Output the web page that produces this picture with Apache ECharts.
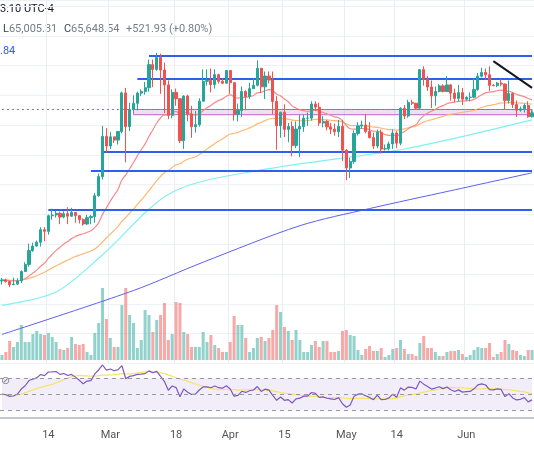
<!DOCTYPE html>
<html>
<head>
<meta charset="utf-8">
<script src="https://cdn.jsdelivr.net/npm/echarts@6/dist/echarts.min.js"></script>
<style>html,body{margin:0;padding:0;background:#fff}#chart{width:534px;height:462px}</style>
</head>
<body>
<div id="chart"></div>
<script>
// days Feb 2 .. Jun 18 2024
const dates = [];
for (let d = new Date(2024, 1, 2); d <= new Date(2024, 5, 18); d.setDate(d.getDate() + 1)) {
    dates.push((d.getMonth() + 1) + '/' + d.getDate());
}

const closes = [
    43200,43010,42580,42660,43090,44340,45300,47150,47770,48290,49960,49740,51830,51940,52160,51660,52120,51780,52280,51850,51320,50730,51570,51730,54520,57090,62500,61200,
    62430,61990,63140,68330,63800,66110,66930,68300,68500,69020,72120,71480,73080,71400,69400,65320,68390,67550,61910,67910,65490,63780,64060,67210,69880,69990,69460,70780,69890,69640,71330,
    69700,65450,65960,68510,67840,68900,69360,71630,69140,70590,70060,67190,63920,65740,63430,63810,61280,63470,63820,64940,64940,66840,66410,64280,64500,63770,63460,63120,63840,60640,
    58250,59120,62890,63890,64030,63160,62330,61190,63050,60790,60820,61480,62940,61580,66270,65230,67050,66940,66280,71450,70140,69120,67930,68530,69270,68510,69400,68300,67590,68360,67490,
    67710,67760,68800,70570,71080,70760,69340,69310,69650,69510,67320,68240,66760,66010,66190,66640,65127,65648
];
const highs = [
    43480,43380,43100,43520,43450,44500,45600,48100,48200,48500,50300,50300,52000,52800,52550,52400,52450,52980,52900,52000,51500,51500,51950,51950,54900,57500,63900,63600,
    63100,62400,63200,68500,69000,67000,68000,68500,68800,69800,72800,72800,73700,73600,72400,70000,68800,68900,67600,68000,68100,66600,65900,67600,71500,71500,71600,71500,70900,70300,71300,
    71300,69700,66900,69200,68700,69700,70300,72700,71700,71200,71200,71200,67900,65800,66800,64300,64500,64500,65400,65400,65700,67200,67200,67000,65200,64700,64300,64200,64700,64700,
    60800,59600,63300,64400,64600,65500,64400,63000,63400,63400,61400,61800,63400,63200,66400,66700,67400,67400,67000,71500,71900,70600,70000,69200,69500,69500,70600,69500,68900,69400,69000,
    67900,68400,70300,71000,71700,71600,71900,69500,69800,70200,69600,70000,68400,67300,66500,66900,67200,66100
];
const lows = [
    42600,42850,42250,42550,42550,42800,44300,45000,47000,47700,47700,48400,49300,51300,51600,50700,51500,50700,51700,50900,50800,50500,50600,50700,50900,54400,56700,60300,
    60800,61600,61400,62900,59000,63200,66000,66000,67900,68100,68500,69100,71300,68200,65600,64800,64900,66600,61600,60800,64500,62300,63000,63800,67200,69300,68400,68900,69600,69500,69600,
    68200,64600,64500,65100,66000,67500,68900,69200,68300,67500,69600,65500,60700,62300,62400,61700,59800,60900,59700,63100,63900,64600,65900,63900,63700,63300,62800,62600,62400,59200,
    56600,56900,58800,62600,63500,62900,62200,60800,60900,60200,60600,60600,60800,60900,61300,64800,65000,66700,66100,66100,69300,68600,66300,66600,68400,68400,68500,67300,67100,67200,66700,
    67300,67200,67600,68600,70400,70100,68600,69200,69100,69200,66100,66900,66300,65100,65800,65700,65000,65005
];
const volumes = [
    5,8,19,13,18,35,18,18,26,29,26,25,27,23,18,11,10,12,23,16,15,16,8,5,27,37,72,41,
    22,13,13,55,72,45,37,12,20,50,45,28,40,45,57,20,26,58,57,28,26,13,13,13,28,18,25,15,12,8,8,
    18,44,35,35,22,8,12,22,23,19,22,30,55,48,33,29,20,30,20,8,8,15,19,13,19,19,8,8,9,29,
    30,25,24,10,5,11,14,9,9,12,3,5,11,12,20,11,6,6,4,17,24,12,12,8,4,4,8,9,9,10,6,
    3,5,10,13,12,12,17,3,6,8,20,16,10,9,5,4,10,10
];
// slower moving averages (sparse points)
const ma100Idx = [0, 14, 26, 44, 69, 104, 137];
const ma100Val = [39800, 41600, 46600, 55000, 58150, 60800, 64700];
const ma200Idx = [0, 34, 52, 77, 95, 116, 137];
const ma200Val = [35900, 41800, 45600, 50500, 52800, 55200, 57600];

// support / resistance levels: [startIndex, price]
const levels = [[38, 73300], [35, 70200], [26, 60400], [23, 57900], [12, 52700]];
const bandLow = 65400, bandHigh = 66100, bandStart = 34;
const trend = [[127, 72600], [137, 69000]];
const tickLabels = { 12: '14', 28: 'Mar', 45: '18', 59: 'Apr', 73: '15', 89: 'May', 102: '14', 120: 'Jun' };

const UP = '#26a69a', DOWN = '#ef5350';
const opens = closes.map((c, i) => i ? closes[i - 1] : 43100);
const candles = closes.map((c, i) => [opens[i], c, lows[i], highs[i]]);
const volData = volumes.map((v, i) => ({
    value: v,
    itemStyle: { color: closes[i] >= opens[i] ? 'rgba(38,166,154,0.5)' : 'rgba(239,83,80,0.5)' }
}));

function ema(src, n) {
    const k = 2 / (n + 1);
    let prev = src[0];
    return src.map((v, i) => (prev = i ? v * k + prev * (1 - k) : v, Math.round(prev)));
}
function sparse(idx, val) {
    const out = dates.map(() => null);
    idx.forEach((x, j) => { out[x] = val[j]; });
    return out;
}
function rsi(src, n) {
    let g = 400, l = 400;
    return src.map((v, i) => {
        if (i) {
            const d = v - src[i - 1];
            g = (g * (n - 1) + Math.max(d, 0)) / n;
            l = (l * (n - 1) + Math.max(-d, 0)) / n;
        }
        return +(100 - 100 / (1 + g / l)).toFixed(2);
    });
}
const rsiVals = rsi(closes, 14);
const rsiMa = rsiVals.map((v, i) => {
    const s = rsiVals.slice(Math.max(0, i - 13), i + 1);
    return +(s.reduce((a, b) => a + b, 0) / s.length).toFixed(2);
});

const vSplit = {
    show: true,
    interval: (i) => i in tickLabels,
    lineStyle: { color: '#e9edf4' }
};
const last = dates.length - 1;

const chart = echarts.init(document.getElementById('chart'));
chart.setOption({
    animation: false,
    textStyle: { fontFamily: 'Roboto, sans-serif' },
    graphic: [
        { type: 'text', left: 0, top: 4, style: { text: '3:10 UTC-4', fill: '#131722', font: '11px Roboto' } },
        { type: 'text', left: 3, top: 23, style: {
            text: '{k|L}{v|65,005.31}  {k|C}{v|65,648.54}  {v|+521.93 (+0.80%)}',
            rich: { k: { fill: '#444', font: '11px Roboto' }, v: { fill: '#787b86', font: '11px Roboto' } }
        } },
        { type: 'text', left: 0, top: 46, style: { text: '.84', fill: '#2962ff', font: '11px Roboto' } },
        { type: 'text', left: 1, top: 376, style: { text: '⊘', fill: '#888', font: '11px DejaVu Sans' } }
    ],
    grid: [
        { left: -4, right: 0, top: -1, height: 364.5 },
        { left: -4, right: 0, top: 270, height: 90 },
        { left: -4, right: 0, top: 362, height: 56 }
    ],
    xAxis: [0, 1, 2].map(g => ({
        type: 'category', gridIndex: g, data: dates, boundaryGap: true,
        axisTick: { show: false },
        axisLine: { show: g === 2, lineStyle: { color: '#b2b5be', width: 1.5 } },
        axisLabel: {
            show: g === 2, interval: (i) => i in tickLabels,
            formatter: (v, i) => tickLabels[i] || '', color: '#555', fontSize: 11, margin: 12
        },
        splitLine: g === 0 ? vSplit : { show: false }
    })),
    yAxis: [
        { type: 'value', gridIndex: 0, min: 32000, max: 80800, interval: 4000, axisLabel: { show: false },
          splitLine: { lineStyle: { color: '#eef1f6' } } },
        { type: 'value', gridIndex: 1, min: 0, max: 90, show: false, splitLine: { show: false } },
        { type: 'value', gridIndex: 2, min: 20, max: 90, show: false, splitLine: { show: false } }
    ],
    series: [
        {
            type: 'bar', xAxisIndex: 1, yAxisIndex: 1, data: volData, barWidth: '78%', z: 1
        },
        {
            type: 'line', data: sparse(ma200Idx, ma200Val), connectNulls: true, smooth: 0.3, symbol: 'none',
            lineStyle: { color: '#5d5ff0', width: 1 }, z: 2
        },
        {
            type: 'line', data: sparse(ma100Idx, ma100Val), connectNulls: true, smooth: 0.3, symbol: 'none',
            lineStyle: { color: '#7ff0f4', width: 1.2 }, z: 2
        },
        {
            type: 'line', data: ema(closes, 50), smooth: true, symbol: 'none',
            lineStyle: { color: '#ffb870', width: 1.2 }, z: 2
        },
        {
            type: 'line', data: ema(closes, 20), smooth: true, symbol: 'none',
            lineStyle: { color: '#f78a8a', width: 1.2 }, z: 2
        },
        {
            type: 'candlestick', data: candles, barWidth: '70%', z: 5,
            itemStyle: { color: UP, color0: DOWN, borderColor: UP, borderColor0: DOWN, borderWidth: 1 },
            markArea: {
                silent: true,
                itemStyle: { color: 'rgba(186,104,200,0.22)', borderColor: '#ba68c8', borderWidth: 1 },
                data: [[{ xAxis: bandStart, yAxis: bandLow }, { xAxis: last, yAxis: bandHigh }]]
            },
            markLine: {
                silent: true, symbol: 'none', label: { show: false },
                data: [
                    ...levels.map(([s, p]) => [
                        { coord: [s, p], lineStyle: { color: '#2f5ff0', width: 2, type: 'solid' } },
                        { coord: [last, p] }
                    ]),
                    [{ coord: trend[0], lineStyle: { color: '#131722', width: 2, type: 'solid' } }, { coord: trend[1] }],
                    [{ coord: [0, 66200], lineStyle: { color: '#26a69a', width: 1, type: [2, 3] } }, { coord: [last, 66200] }]
                ]
            }
        },
        {
            type: 'line', xAxisIndex: 2, yAxisIndex: 2, data: rsiMa, smooth: true, symbol: 'none',
            lineStyle: { color: '#f5e464', width: 1.2 }, z: 3
        },
        {
            type: 'line', xAxisIndex: 2, yAxisIndex: 2, data: rsiVals, symbol: 'none',
            lineStyle: { color: '#7e57c2', width: 1.2 }, z: 4,
            markArea: {
                silent: true, itemStyle: { color: 'rgba(126,87,194,0.1)' },
                data: [[{ xAxis: 0, yAxis: 30 }, { xAxis: last, yAxis: 70 }]]
            },
            markLine: {
                silent: true, symbol: 'none', label: { show: false },
                lineStyle: { color: '#9598a1', type: [4, 4], width: 1 },
                data: [{ yAxis: 70 }, { yAxis: 50 }, { yAxis: 30 }]
            }
        }
    ]
});
</script>
</body>
</html>
